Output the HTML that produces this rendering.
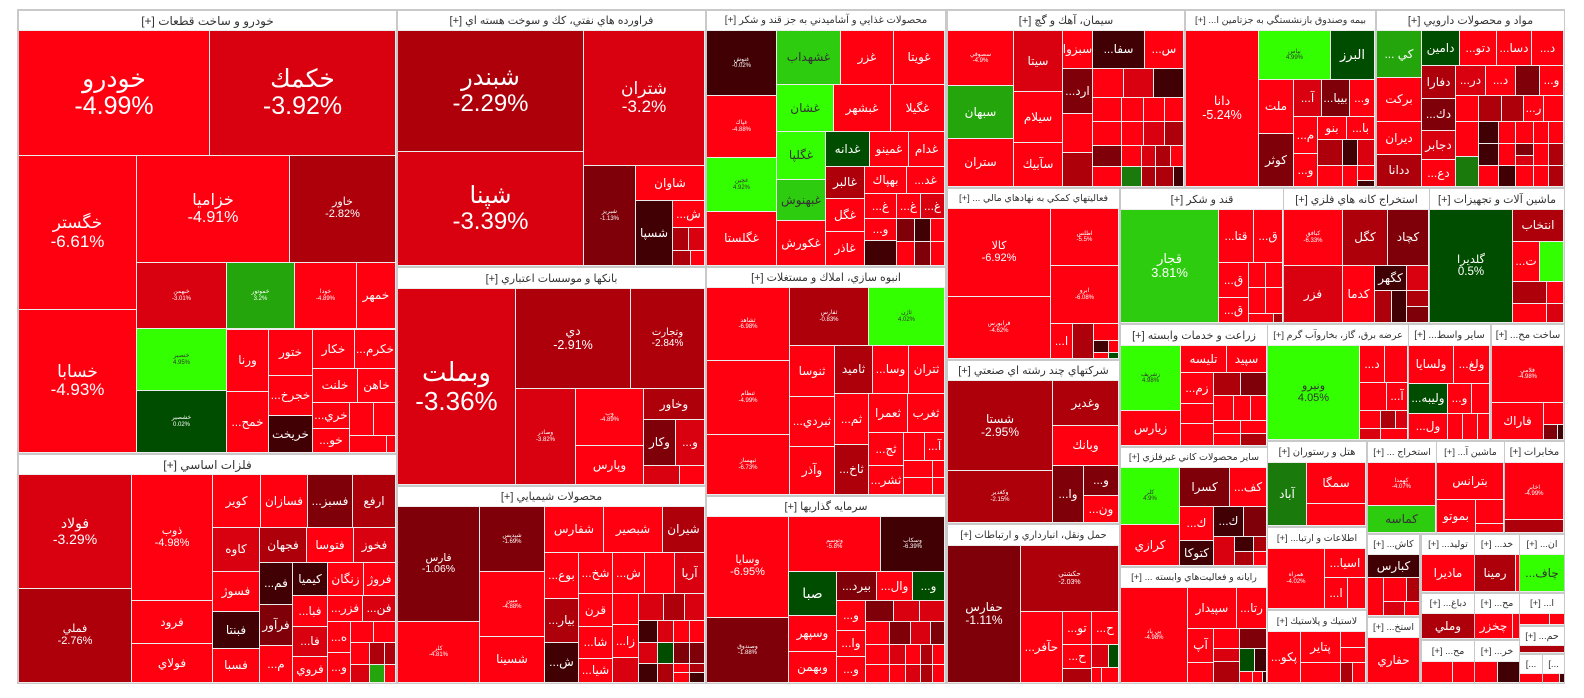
<!DOCTYPE html>
<html><head><meta charset="utf-8"><style>
html,body{margin:0;padding:0;background:#fff;width:1584px;height:698px;overflow:hidden}
body{position:relative;font-family:"Liberation Sans","DejaVu Sans",sans-serif}
.bg{position:absolute;left:17px;top:9px;width:1548px;height:675px;background:#c9c9c9}
.s{position:absolute;background:#ececec}
.h{position:absolute;background:#fff;color:#333;font-size:11px;display:flex;align-items:center;justify-content:center;overflow:hidden;white-space:nowrap}
.h.n{font-size:10px}
.h.m{font-size:9.5px}
.t{position:absolute;display:flex;flex-direction:column;align-items:center;justify-content:center;overflow:hidden;color:#fff;font-size:12px;line-height:1.08;text-align:center;white-space:nowrap}
.t i{font-style:normal;display:block}
.a{background:#ff0010}.b{background:#d9000f}.c{background:#ad000b}.d{background:#7f0008}.e{background:#400004}
.g1{background:#33ff00;color:#333}.g2{background:#2ecc0f;color:#333}.g3{background:#23a50b}.g4{background:#1b7a0c}.g5{background:#004d00}
.x{font-size:6px}
</style></head><body>
<div class="bg"></div>

<!-- sector backgrounds + headers -->
<div class="s" style="left:19px;top:11px;width:377px;height:442px"></div><div class="h" dir="rtl" style="left:19px;top:11px;width:377px;height:19px;font-size:12px">خودرو و ساخت قطعات [+]</div>
<div class="s" style="left:19px;top:455px;width:377px;height:228px"></div><div class="h" dir="rtl" style="left:19px;top:455px;width:377px;height:19px;font-size:12px">فلزات اساسي [+]</div>
<div class="s" style="left:398px;top:11px;width:307px;height:255px"></div><div class="h" dir="rtl" style="left:398px;top:11px;width:307px;height:19px">فراورده هاي نفتي، كك و سوخت هسته اي [+]</div>
<div class="s" style="left:398px;top:268px;width:307px;height:217px"></div><div class="h" dir="rtl" style="left:398px;top:268px;width:307px;height:20px">بانكها و موسسات اعتباري [+]</div>
<div class="s" style="left:398px;top:487px;width:307px;height:196px"></div><div class="h" dir="rtl" style="left:398px;top:487px;width:307px;height:19px">محصولات شيميايي [+]</div>
<div class="s" style="left:707px;top:11px;width:238px;height:255px"></div><div class="h n" dir="rtl" style="left:707px;top:11px;width:238px;height:19px">محصولات غذايي و آشاميدني به جز قند و شكر [+]</div>
<div class="s" style="left:707px;top:268px;width:238px;height:227px"></div><div class="h" dir="rtl" style="left:707px;top:268px;width:238px;height:19px">انبوه سازي، املاك و مستغلات [+]</div>
<div class="s" style="left:707px;top:497px;width:238px;height:186px"></div><div class="h" dir="rtl" style="left:707px;top:497px;width:238px;height:19px">سرمايه گذاريها [+]</div>
<div class="s" style="left:948px;top:11px;width:236px;height:176px"></div><div class="h" dir="rtl" style="left:948px;top:11px;width:236px;height:19px">سيمان، آهك و گچ [+]</div>
<div class="s" style="left:1186px;top:11px;width:189px;height:176px"></div><div class="h m" dir="rtl" style="left:1186px;top:11px;width:189px;height:19px">بيمه وصندوق بازنشستگي به جزتامين ا... [+]</div>
<div class="s" style="left:1377px;top:11px;width:187px;height:176px"></div><div class="h" dir="rtl" style="left:1377px;top:11px;width:187px;height:19px">مواد و محصولات دارويي [+]</div>
<div class="s" style="left:948px;top:189px;width:171px;height:170px"></div><div class="h m" dir="rtl" style="left:948px;top:189px;width:171px;height:19px">فعاليتهاي كمكي به نهادهاي مالي ... [+]</div>
<div class="s" style="left:948px;top:361px;width:171px;height:162px"></div><div class="h" dir="rtl" style="left:948px;top:361px;width:171px;height:19px">شركتهاي چند رشته اي صنعتي [+]</div>
<div class="s" style="left:948px;top:525px;width:171px;height:158px"></div><div class="h n" dir="rtl" style="left:948px;top:525px;width:171px;height:20px">حمل ونقل، انبارداري و ارتباطات [+]</div>
<div class="s" style="left:1121px;top:189px;width:162px;height:134px"></div><div class="h" dir="rtl" style="left:1121px;top:189px;width:162px;height:20px">قند و شكر [+]</div>
<div class="s" style="left:1284px;top:189px;width:145px;height:134px"></div><div class="h" dir="rtl" style="left:1284px;top:189px;width:145px;height:20px">استخراج كانه هاي فلزي [+]</div>
<div class="s" style="left:1430px;top:189px;width:134px;height:134px"></div><div class="h" dir="rtl" style="left:1430px;top:189px;width:134px;height:20px">ماشين آلات و تجهيزات [+]</div>
<div class="s" style="left:1121px;top:325px;width:146px;height:121px"></div><div class="h" dir="rtl" style="left:1121px;top:325px;width:146px;height:20px">زراعت و خدمات وابسته [+]</div>
<div class="s" style="left:1268px;top:325px;width:140px;height:115px"></div><div class="h m" dir="rtl" style="left:1268px;top:325px;width:140px;height:20px">عرضه برق، گاز، بخاروآب گرم [+]</div>
<div class="s" style="left:1409px;top:325px;width:81px;height:115px"></div><div class="h n" dir="rtl" style="left:1409px;top:325px;width:81px;height:20px">ساير واسط... [+]</div>
<div class="s" style="left:1492px;top:325px;width:72px;height:115px"></div><div class="h n" dir="rtl" style="left:1492px;top:325px;width:72px;height:20px">ساخت مح... [+]</div>
<div class="s" style="left:1121px;top:448px;width:146px;height:118px"></div><div class="h m" dir="rtl" style="left:1121px;top:448px;width:146px;height:19px">ساير محصولات كاني غيرفلزي [+]</div>
<div class="s" style="left:1121px;top:568px;width:146px;height:115px"></div><div class="h m" dir="rtl" style="left:1121px;top:568px;width:146px;height:19px">رايانه و فعاليت‌هاي وابسته ... [+]</div>
<div class="s" style="left:1268px;top:442px;width:98px;height:84px"></div><div class="h n" dir="rtl" style="left:1268px;top:442px;width:98px;height:20px">هتل و رستوران [+]</div>
<div class="s" style="left:1268px;top:528px;width:98px;height:81px"></div><div class="h m" dir="rtl" style="left:1268px;top:528px;width:98px;height:20px">اطلاعات و ارتبا... [+]</div>
<div class="s" style="left:1268px;top:611px;width:98px;height:72px"></div><div class="h m" dir="rtl" style="left:1268px;top:611px;width:98px;height:20px">لاستيك و پلاستيك [+]</div>
<div class="s" style="left:1368px;top:442px;width:68px;height:91px"></div><div class="h m" dir="rtl" style="left:1368px;top:442px;width:68px;height:20px">استخراج ... [+]</div>
<div class="s" style="left:1437px;top:442px;width:67px;height:91px"></div><div class="h m" dir="rtl" style="left:1437px;top:442px;width:67px;height:20px">ماشين آ... [+]</div>
<div class="s" style="left:1505px;top:442px;width:59px;height:91px"></div><div class="h n" dir="rtl" style="left:1505px;top:442px;width:59px;height:20px">مخابرات [+]</div>
<div class="s" style="left:1368px;top:535px;width:51px;height:81px"></div><div class="h m" dir="rtl" style="left:1368px;top:535px;width:51px;height:19px">كاش... [+]</div>
<div class="s" style="left:1368px;top:618px;width:51px;height:65px"></div><div class="h m" dir="rtl" style="left:1368px;top:618px;width:51px;height:19px">استخ... [+]</div>
<div class="s" style="left:1422px;top:535px;width:52px;height:57px"></div><div class="h m" dir="rtl" style="left:1422px;top:535px;width:52px;height:19px">توليد... [+]</div>
<div class="s" style="left:1422px;top:594px;width:52px;height:45px"></div><div class="h m" dir="rtl" style="left:1422px;top:594px;width:52px;height:19px">دباغ... [+]</div>
<div class="s" style="left:1422px;top:641px;width:52px;height:42px"></div><div class="h m" dir="rtl" style="left:1422px;top:641px;width:52px;height:20px">مح... [+]</div>
<div class="s" style="left:1475px;top:535px;width:44px;height:57px"></div><div class="h m" dir="rtl" style="left:1475px;top:535px;width:44px;height:19px">خد... [+]</div>
<div class="s" style="left:1475px;top:594px;width:44px;height:45px"></div><div class="h m" dir="rtl" style="left:1475px;top:594px;width:44px;height:19px">مح... [+]</div>
<div class="s" style="left:1475px;top:641px;width:44px;height:42px"></div><div class="h m" dir="rtl" style="left:1475px;top:641px;width:44px;height:20px">خر... [+]</div>
<div class="s" style="left:1520px;top:535px;width:44px;height:57px"></div><div class="h m" dir="rtl" style="left:1520px;top:535px;width:44px;height:19px">ان... [+]</div>
<div class="s" style="left:1520px;top:594px;width:44px;height:31px"></div><div class="h m" dir="rtl" style="left:1520px;top:594px;width:44px;height:19px">ا... [+]</div>
<div class="s" style="left:1520px;top:627px;width:44px;height:26px"></div><div class="h m" dir="rtl" style="left:1520px;top:627px;width:44px;height:18px">حم... [+]</div>
<div class="s" style="left:1520px;top:655px;width:22px;height:28px"></div><div class="h m" style="left:1520px;top:655px;width:22px;height:18px">[...</div>
<div class="s" style="left:1543px;top:655px;width:21px;height:28px"></div><div class="h m" style="left:1543px;top:655px;width:21px;height:18px">[...</div>

<!-- 1 خودرو -->
<div class="t a" style="left:19px;top:31px;width:190px;height:124px;font-size:25px"><i dir="rtl">خودرو</i><i>-4.99%</i></div>
<div class="t b" style="left:210px;top:31px;width:185px;height:124px;font-size:25px"><i dir="rtl">خكمك</i><i>-3.92%</i></div>
<div class="t a" style="left:19px;top:156px;width:117px;height:153px;font-size:17px"><i dir="rtl">خگستر</i><i>-6.61%</i></div>
<div class="t a" style="left:19px;top:310px;width:117px;height:142px;font-size:17px"><i dir="rtl">خسابا</i><i>-4.93%</i></div>
<div class="t a" style="left:137px;top:156px;width:152px;height:106px;font-size:16px"><i dir="rtl">خزاميا</i><i>-4.91%</i></div>
<div class="t c" style="left:290px;top:156px;width:105px;height:106px;font-size:11px"><i dir="rtl">خاور</i><i>-2.82%</i></div>
<div class="t b x" style="left:137px;top:263px;width:89px;height:65px"><i dir="rtl">خبهمن</i><i>-3.01%</i></div>
<div class="t g3 x" style="left:227px;top:263px;width:67px;height:65px"><i dir="rtl">خموتور</i><i>3.2%</i></div>
<div class="t a x" style="left:295px;top:263px;width:61px;height:65px"><i dir="rtl">خودا</i><i>-4.89%</i></div>
<div class="t a" style="left:357px;top:263px;width:38px;height:65px"><i dir="rtl">خمهر</i></div>
<div class="t g1 x" style="left:137px;top:329px;width:89px;height:61px"><i dir="rtl">خنصير</i><i>4.95%</i></div>
<div class="t g5 x" style="left:137px;top:391px;width:89px;height:61px"><i dir="rtl">خشصير</i><i>0.02%</i></div>
<div class="t a" style="left:227px;top:330px;width:41px;height:61px"><i dir="rtl">ورنا</i></div>
<div class="t a" style="left:227px;top:392px;width:41px;height:60px"><i dir="rtl">خمح...</i></div>
<div class="t a" style="left:269px;top:330px;width:43px;height:45px"><i dir="rtl">ختور</i></div>
<div class="t a" style="left:269px;top:376px;width:43px;height:39px"><i dir="rtl">خجرخ...</i></div>
<div class="t e" style="left:269px;top:416px;width:43px;height:36px"><i dir="rtl">خريخت</i></div>
<div class="t a" style="left:313px;top:330px;width:41px;height:38px"><i dir="rtl">خكار</i></div>
<div class="t a" style="left:355px;top:330px;width:40px;height:38px"><i dir="rtl">خكرم...</i></div>
<div class="t a" style="left:313px;top:369px;width:44px;height:33px"><i dir="rtl">خلنت</i></div>
<div class="t a" style="left:358px;top:369px;width:37px;height:33px"><i dir="rtl">خاهن</i></div>
<div class="t a" style="left:313px;top:403px;width:36px;height:25px"><i dir="rtl">خري...</i></div>
<div class="t a" style="left:313px;top:429px;width:36px;height:23px"><i dir="rtl">خو...</i></div>
<div class="t a" style="left:350px;top:403px;width:23px;height:32px"></div>
<div class="t a" style="left:374px;top:403px;width:21px;height:32px"></div>
<div class="t a" style="left:350px;top:436px;width:36px;height:16px"></div>
<div class="t a" style="left:387px;top:436px;width:8px;height:16px"></div>

<!-- 2 فلزات -->
<div class="t b" style="left:19px;top:475px;width:112px;height:113px;font-size:14px"><i dir="rtl">فولاد</i><i>-3.29%</i></div>
<div class="t c" style="left:19px;top:589px;width:112px;height:93px;font-size:11px"><i dir="rtl">فملي</i><i>-2.76%</i></div>
<div class="t a" style="left:132px;top:475px;width:80px;height:125px;font-size:11px"><i dir="rtl">ذوب</i><i>-4.98%</i></div>
<div class="t a" style="left:132px;top:601px;width:80px;height:42px"><i dir="rtl">فرود</i></div>
<div class="t a" style="left:132px;top:644px;width:80px;height:38px"><i dir="rtl">فولاي</i></div>
<div class="t a" style="left:213px;top:475px;width:47px;height:52px"><i dir="rtl">كوير</i></div>
<div class="t a" style="left:261px;top:475px;width:46px;height:52px"><i dir="rtl">فسازان</i></div>
<div class="t d" style="left:308px;top:475px;width:44px;height:52px"><i dir="rtl">فسبز...</i></div>
<div class="t c" style="left:353px;top:475px;width:42px;height:52px"><i dir="rtl">ارفع</i></div>
<div class="t b" style="left:213px;top:528px;width:46px;height:43px"><i dir="rtl">كاوه</i></div>
<div class="t c" style="left:260px;top:528px;width:46px;height:34px"><i dir="rtl">فجهان</i></div>
<div class="t a" style="left:307px;top:528px;width:46px;height:34px"><i dir="rtl">فتوسا</i></div>
<div class="t b" style="left:354px;top:528px;width:41px;height:34px"><i dir="rtl">فخوز</i></div>
<div class="t a" style="left:213px;top:572px;width:46px;height:39px"><i dir="rtl">فسوژ</i></div>
<div class="t e" style="left:213px;top:612px;width:46px;height:36px"><i dir="rtl">فبنتا</i></div>
<div class="t a" style="left:213px;top:649px;width:46px;height:33px"><i dir="rtl">فسبا</i></div>
<div class="t e" style="left:260px;top:563px;width:32px;height:41px"><i dir="rtl">فم...</i></div>
<div class="t d" style="left:260px;top:605px;width:32px;height:40px"><i dir="rtl">فرآور</i></div>
<div class="t a" style="left:260px;top:646px;width:32px;height:36px"><i dir="rtl">م...</i></div>
<div class="t e" style="left:293px;top:563px;width:34px;height:32px"><i dir="rtl">كيميا</i></div>
<div class="t a" style="left:328px;top:563px;width:35px;height:32px"><i dir="rtl">زنگان</i></div>
<div class="t a" style="left:364px;top:563px;width:31px;height:32px"><i dir="rtl">فروژ</i></div>
<div class="t a" style="left:293px;top:596px;width:34px;height:30px"><i dir="rtl">فبا...</i></div>
<div class="t b" style="left:293px;top:627px;width:34px;height:29px"><i dir="rtl">فا...</i></div>
<div class="t a" style="left:293px;top:657px;width:34px;height:25px"><i dir="rtl">فروي</i></div>
<div class="t a" style="left:328px;top:596px;width:34px;height:25px"><i dir="rtl">فزر...</i></div>
<div class="t b" style="left:363px;top:596px;width:32px;height:25px"><i dir="rtl">فن...</i></div>
<div class="t a" style="left:328px;top:622px;width:22px;height:30px"><i dir="rtl">ه...</i></div>
<div class="t a" style="left:328px;top:653px;width:22px;height:29px"><i dir="rtl">و...</i></div>
<div class="t a" style="left:351px;top:622px;width:22px;height:20px"></div>
<div class="t a" style="left:374px;top:622px;width:21px;height:20px"></div>
<div class="t a" style="left:351px;top:643px;width:18px;height:21px"></div>
<div class="t c" style="left:370px;top:643px;width:14px;height:21px"></div>
<div class="t c" style="left:385px;top:643px;width:10px;height:21px"></div>
<div class="t b" style="left:351px;top:665px;width:18px;height:17px"></div>
<div class="t g3" style="left:370px;top:665px;width:14px;height:17px"></div>
<div class="t a" style="left:385px;top:665px;width:10px;height:17px"></div>

<!-- 3 فراورده -->
<div class="t c" style="left:398px;top:31px;width:185px;height:120px;font-size:24px"><i dir="rtl">شبندر</i><i>-2.29%</i></div>
<div class="t b" style="left:398px;top:152px;width:185px;height:113px;font-size:24px"><i dir="rtl">شپنا</i><i>-3.39%</i></div>
<div class="t b" style="left:584px;top:31px;width:120px;height:134px;font-size:17px"><i dir="rtl">شتران</i><i>-3.2%</i></div>
<div class="t d x" style="left:584px;top:166px;width:51px;height:99px"><i dir="rtl">شبريز</i><i>-1.13%</i></div>
<div class="t a" style="left:636px;top:166px;width:68px;height:34px"><i dir="rtl">شاوان</i></div>
<div class="t e" style="left:636px;top:201px;width:36px;height:64px"><i dir="rtl">شسپا</i></div>
<div class="t a" style="left:673px;top:201px;width:31px;height:26px"><i dir="rtl">ش...</i></div>
<div class="t c" style="left:673px;top:228px;width:15px;height:22px"></div>
<div class="t b" style="left:689px;top:228px;width:15px;height:22px"></div>
<div class="t c" style="left:673px;top:251px;width:17px;height:14px"></div>
<div class="t a" style="left:691px;top:251px;width:13px;height:14px"></div>

<!-- 4 بانکها -->
<div class="t b" style="left:398px;top:289px;width:117px;height:195px;font-size:26px"><i dir="rtl">وبملت</i><i>-3.36%</i></div>
<div class="t c" style="left:516px;top:289px;width:114px;height:99px;font-size:12.5px"><i dir="rtl">دي</i><i>-2.91%</i></div>
<div class="t c" style="left:631px;top:289px;width:73px;height:99px;font-size:10px"><i dir="rtl">وتجارت</i><i>-2.84%</i></div>
<div class="t b x" style="left:516px;top:389px;width:59px;height:95px"><i dir="rtl">وصادر</i><i>-3.82%</i></div>
<div class="t a x" style="left:576px;top:389px;width:67px;height:56px"><i dir="rtl">وب</i><i>-4.89%</i></div>
<div class="t a" style="left:576px;top:446px;width:67px;height:38px"><i dir="rtl">وپارس</i></div>
<div class="t c" style="left:644px;top:389px;width:60px;height:30px"><i dir="rtl">وخاور</i></div>
<div class="t d" style="left:644px;top:420px;width:31px;height:45px"><i dir="rtl">وكار</i></div>
<div class="t b" style="left:676px;top:420px;width:28px;height:45px"><i dir="rtl">و...</i></div>
<div class="t b" style="left:644px;top:466px;width:35px;height:18px"></div>
<div class="t a" style="left:680px;top:466px;width:24px;height:18px"></div>

<!-- 5 شیمیایی -->
<div class="t d" style="left:398px;top:507px;width:81px;height:114px;font-size:10.5px"><i dir="rtl">فارس</i><i>-1.06%</i></div>
<div class="t a x" style="left:398px;top:622px;width:81px;height:60px"><i dir="rtl">كلر</i><i>-4.81%</i></div>
<div class="t d x" style="left:480px;top:507px;width:64px;height:64px"><i dir="rtl">شپديس</i><i>-1.69%</i></div>
<div class="t a x" style="left:480px;top:572px;width:64px;height:64px"><i dir="rtl">مبين</i><i>-4.88%</i></div>
<div class="t a" style="left:480px;top:637px;width:64px;height:45px"><i dir="rtl">شسينا</i></div>
<div class="t a" style="left:545px;top:507px;width:58px;height:45px"><i dir="rtl">شفارس</i></div>
<div class="t a" style="left:604px;top:507px;width:58px;height:45px"><i dir="rtl">شبصير</i></div>
<div class="t c" style="left:663px;top:507px;width:41px;height:45px"><i dir="rtl">شيران</i></div>
<div class="t a" style="left:545px;top:553px;width:33px;height:45px"><i dir="rtl">بوع...</i></div>
<div class="t a" style="left:579px;top:553px;width:33px;height:40px"><i dir="rtl">شخ...</i></div>
<div class="t a" style="left:613px;top:553px;width:31px;height:40px"><i dir="rtl">ش...</i></div>
<div class="t a" style="left:645px;top:553px;width:29px;height:40px"></div>
<div class="t b" style="left:675px;top:553px;width:29px;height:40px"><i dir="rtl">آريا</i></div>
<div class="t c" style="left:545px;top:599px;width:33px;height:43px"><i dir="rtl">بيار...</i></div>
<div class="t e" style="left:545px;top:643px;width:33px;height:39px"><i dir="rtl">ش...</i></div>
<div class="t a" style="left:579px;top:594px;width:33px;height:32px"><i dir="rtl">قرن</i></div>
<div class="t a" style="left:579px;top:627px;width:33px;height:31px"><i dir="rtl">شا...</i></div>
<div class="t a" style="left:579px;top:659px;width:33px;height:23px"><i dir="rtl">شيا...</i></div>
<div class="t a" style="left:613px;top:594px;width:25px;height:30px"></div>
<div class="t a" style="left:613px;top:625px;width:25px;height:32px"><i dir="rtl">زا...</i></div>
<div class="t b" style="left:613px;top:658px;width:25px;height:24px"></div>
<div class="t b" style="left:639px;top:594px;width:24px;height:26px"></div>
<div class="t c" style="left:664px;top:594px;width:20px;height:26px"></div>
<div class="t b" style="left:685px;top:594px;width:19px;height:26px"></div>
<div class="t e" style="left:639px;top:621px;width:18px;height:21px"></div>
<div class="t b" style="left:639px;top:643px;width:18px;height:20px"></div>
<div class="t e" style="left:639px;top:664px;width:18px;height:18px"></div>
<div class="t b" style="left:658px;top:621px;width:15px;height:21px"></div>
<div class="t g5" style="left:658px;top:643px;width:15px;height:20px"></div>
<div class="t c" style="left:658px;top:664px;width:15px;height:18px"></div>
<div class="t a" style="left:674px;top:621px;width:15px;height:21px"></div>
<div class="t d" style="left:674px;top:643px;width:15px;height:20px"></div>
<div class="t a" style="left:674px;top:664px;width:15px;height:8px"></div>
<div class="t a" style="left:674px;top:673px;width:15px;height:9px"></div>
<div class="t a" style="left:690px;top:621px;width:14px;height:21px"></div>
<div class="t d" style="left:690px;top:643px;width:14px;height:20px"></div>
<div class="t c" style="left:690px;top:664px;width:14px;height:8px"></div>
<div class="t e" style="left:690px;top:673px;width:14px;height:9px"></div>

<!-- 6 غذایی -->
<div class="t e x" style="left:707px;top:31px;width:69px;height:64px"><i dir="rtl">غنوش</i><i>-0.02%</i></div>
<div class="t a x" style="left:707px;top:96px;width:69px;height:61px"><i dir="rtl">غپاك</i><i>-4.88%</i></div>
<div class="t g1 x" style="left:707px;top:158px;width:69px;height:53px"><i dir="rtl">غچين</i><i>4.92%</i></div>
<div class="t a" style="left:707px;top:212px;width:69px;height:53px"><i dir="rtl">غگلستا</i></div>
<div class="t g2" style="left:777px;top:31px;width:63px;height:53px"><i dir="rtl">غشهداب</i></div>
<div class="t a" style="left:841px;top:31px;width:52px;height:53px"><i dir="rtl">غزر</i></div>
<div class="t a" style="left:894px;top:31px;width:50px;height:53px"><i dir="rtl">غويتا</i></div>
<div class="t g1" style="left:777px;top:85px;width:56px;height:46px"><i dir="rtl">غشان</i></div>
<div class="t a" style="left:834px;top:85px;width:56px;height:46px"><i dir="rtl">غبشهر</i></div>
<div class="t a" style="left:891px;top:85px;width:53px;height:46px"><i dir="rtl">غگيلا</i></div>
<div class="t g1" style="left:777px;top:132px;width:48px;height:47px"><i dir="rtl">غگلپا</i></div>
<div class="t g2" style="left:777px;top:180px;width:48px;height:40px"><i dir="rtl">غبهنوش</i></div>
<div class="t a" style="left:777px;top:221px;width:48px;height:44px"><i dir="rtl">غكورش</i></div>
<div class="t g5" style="left:826px;top:132px;width:43px;height:34px"><i dir="rtl">غدانه</i></div>
<div class="t a" style="left:870px;top:132px;width:38px;height:34px"><i dir="rtl">غمينو</i></div>
<div class="t a" style="left:909px;top:132px;width:35px;height:34px"><i dir="rtl">غدام</i></div>
<div class="t c" style="left:826px;top:167px;width:38px;height:31px"><i dir="rtl">غالبر</i></div>
<div class="t a" style="left:865px;top:167px;width:41px;height:26px"><i dir="rtl">بهپاك</i></div>
<div class="t a" style="left:907px;top:167px;width:37px;height:26px"><i dir="rtl">غد...</i></div>
<div class="t a" style="left:826px;top:199px;width:38px;height:32px"><i dir="rtl">غگل</i></div>
<div class="t a" style="left:826px;top:232px;width:38px;height:33px"><i dir="rtl">غاذر</i></div>
<div class="t a" style="left:865px;top:194px;width:31px;height:24px"><i dir="rtl">غ...</i></div>
<div class="t a" style="left:897px;top:194px;width:23px;height:24px"><i dir="rtl">غ...</i></div>
<div class="t b" style="left:921px;top:194px;width:23px;height:24px"><i dir="rtl">غ...</i></div>
<div class="t a" style="left:865px;top:219px;width:31px;height:21px"><i dir="rtl">و...</i></div>
<div class="t e" style="left:865px;top:241px;width:31px;height:24px"></div>
<div class="t d" style="left:897px;top:219px;width:17px;height:22px"></div>
<div class="t e" style="left:915px;top:219px;width:15px;height:22px"></div>
<div class="t a" style="left:931px;top:219px;width:13px;height:22px"></div>
<div class="t a" style="left:897px;top:242px;width:17px;height:23px"></div>
<div class="t d" style="left:915px;top:242px;width:15px;height:23px"></div>
<div class="t a" style="left:931px;top:242px;width:13px;height:23px"></div>

<!-- 7 انبوه -->
<div class="t a x" style="left:707px;top:288px;width:82px;height:72px"><i dir="rtl">ثشاهد</i><i>-6.98%</i></div>
<div class="t a x" style="left:707px;top:361px;width:82px;height:73px"><i dir="rtl">ثنظام</i><i>-4.99%</i></div>
<div class="t a x" style="left:707px;top:435px;width:82px;height:59px"><i dir="rtl">ثبهساز</i><i>-6.73%</i></div>
<div class="t c x" style="left:790px;top:288px;width:78px;height:57px"><i dir="rtl">ثفارس</i><i>-0.83%</i></div>
<div class="t g1 x" style="left:869px;top:288px;width:75px;height:57px"><i dir="rtl">ثاژن</i><i>4.02%</i></div>
<div class="t a" style="left:790px;top:346px;width:44px;height:50px"><i dir="rtl">ثنوسا</i></div>
<div class="t c" style="left:835px;top:346px;width:37px;height:47px"><i dir="rtl">ثاميد</i></div>
<div class="t a" style="left:873px;top:346px;width:35px;height:47px"><i dir="rtl">وسا...</i></div>
<div class="t a" style="left:909px;top:346px;width:35px;height:47px"><i dir="rtl">ثتران</i></div>
<div class="t a" style="left:790px;top:397px;width:44px;height:49px"><i dir="rtl">ثبردي...</i></div>
<div class="t a" style="left:790px;top:447px;width:44px;height:47px"><i dir="rtl">وآذر</i></div>
<div class="t a" style="left:835px;top:394px;width:33px;height:50px"><i dir="rtl">ثم...</i></div>
<div class="t c" style="left:835px;top:445px;width:33px;height:49px"><i dir="rtl">ثاخ...</i></div>
<div class="t a" style="left:869px;top:394px;width:38px;height:38px"><i dir="rtl">ثعمرا</i></div>
<div class="t a" style="left:908px;top:394px;width:36px;height:38px"><i dir="rtl">ثغرب</i></div>
<div class="t a" style="left:869px;top:433px;width:34px;height:32px"><i dir="rtl">ثج...</i></div>
<div class="t a" style="left:869px;top:466px;width:34px;height:28px"><i dir="rtl">ثشر...</i></div>
<div class="t a" style="left:904px;top:433px;width:20px;height:27px"></div>
<div class="t a" style="left:925px;top:433px;width:19px;height:27px"><i dir="rtl">آ...</i></div>
<div class="t a" style="left:904px;top:461px;width:28px;height:16px"></div>
<div class="t a" style="left:933px;top:461px;width:11px;height:16px"></div>
<div class="t a" style="left:904px;top:478px;width:28px;height:16px"></div>
<div class="t a" style="left:933px;top:478px;width:11px;height:16px"></div>

<!-- 8 سرمایه -->
<div class="t a" style="left:707px;top:517px;width:81px;height:100px;font-size:11px"><i dir="rtl">وسايا</i><i>-6.95%</i></div>
<div class="t d x" style="left:707px;top:618px;width:81px;height:64px"><i dir="rtl">وصندوق</i><i>-1.88%</i></div>
<div class="t a x" style="left:789px;top:517px;width:91px;height:54px"><i dir="rtl">وتوسم</i><i>-5.8%</i></div>
<div class="t e x" style="left:881px;top:517px;width:63px;height:54px"><i dir="rtl">وسكاب</i><i>-6.39%</i></div>
<div class="t g5" style="left:789px;top:572px;width:47px;height:43px;font-size:14px"><i dir="rtl">صبا</i></div>
<div class="t a" style="left:789px;top:616px;width:47px;height:35px"><i dir="rtl">وسپهر</i></div>
<div class="t a" style="left:789px;top:652px;width:47px;height:30px"><i dir="rtl">وبهمن</i></div>
<div class="t d" style="left:837px;top:572px;width:39px;height:28px"><i dir="rtl">بيرد...</i></div>
<div class="t a" style="left:877px;top:572px;width:35px;height:28px"><i dir="rtl">وال...</i></div>
<div class="t g5" style="left:913px;top:572px;width:31px;height:28px"><i dir="rtl">و...</i></div>
<div class="t a" style="left:837px;top:601px;width:28px;height:29px"><i dir="rtl">و...</i></div>
<div class="t a" style="left:837px;top:631px;width:28px;height:25px"><i dir="rtl">وا...</i></div>
<div class="t a" style="left:837px;top:657px;width:28px;height:25px"><i dir="rtl">و...</i></div>
<div class="t d" style="left:866px;top:601px;width:27px;height:20px"></div>
<div class="t b" style="left:894px;top:601px;width:25px;height:20px"></div>
<div class="t b" style="left:920px;top:601px;width:24px;height:20px"></div>
<div class="t a" style="left:866px;top:622px;width:23px;height:22px"></div>
<div class="t d" style="left:890px;top:622px;width:20px;height:22px"></div>
<div class="t b" style="left:911px;top:622px;width:19px;height:22px"></div>
<div class="t d" style="left:931px;top:622px;width:13px;height:22px"></div>
<div class="t a" style="left:866px;top:645px;width:23px;height:19px"></div>
<div class="t b" style="left:890px;top:645px;width:15px;height:19px"></div>
<div class="t a" style="left:906px;top:645px;width:14px;height:19px"></div>
<div class="t c" style="left:921px;top:645px;width:11px;height:19px"></div>
<div class="t a" style="left:933px;top:645px;width:11px;height:19px"></div>
<div class="t a" style="left:866px;top:665px;width:23px;height:17px"></div>
<div class="t a" style="left:890px;top:665px;width:15px;height:17px"></div>
<div class="t b" style="left:906px;top:665px;width:14px;height:17px"></div>
<div class="t c" style="left:921px;top:665px;width:11px;height:17px"></div>
<div class="t a" style="left:933px;top:665px;width:11px;height:17px"></div>

<!-- 9 سیمان -->
<div class="t a x" style="left:948px;top:31px;width:65px;height:54px"><i dir="rtl">سصوفي</i><i>-4.9%</i></div>
<div class="t g3" style="left:948px;top:86px;width:65px;height:52px"><i dir="rtl">سبهان</i></div>
<div class="t a" style="left:948px;top:139px;width:65px;height:47px"><i dir="rtl">ستران</i></div>
<div class="t b" style="left:1014px;top:31px;width:48px;height:60px"><i dir="rtl">سيتا</i></div>
<div class="t a" style="left:1014px;top:92px;width:48px;height:50px"><i dir="rtl">سيلام</i></div>
<div class="t a" style="left:1014px;top:143px;width:48px;height:43px"><i dir="rtl">سآبيك</i></div>
<div class="t a" style="left:1063px;top:31px;width:29px;height:37px"><i dir="rtl">سبزوا</i></div>
<div class="t e" style="left:1093px;top:31px;width:51px;height:37px"><i dir="rtl">سفا...</i></div>
<div class="t a" style="left:1145px;top:31px;width:38px;height:37px"><i dir="rtl">س...</i></div>
<div class="t d" style="left:1063px;top:69px;width:29px;height:44px"><i dir="rtl">ارد...</i></div>
<div class="t a" style="left:1063px;top:114px;width:29px;height:38px"></div>
<div class="t c" style="left:1063px;top:153px;width:29px;height:33px"></div>
<div class="t a" style="left:1093px;top:69px;width:30px;height:28px"></div>
<div class="t b" style="left:1124px;top:69px;width:29px;height:28px"></div>
<div class="t e" style="left:1154px;top:69px;width:29px;height:28px"></div>
<div class="t a" style="left:1093px;top:98px;width:28px;height:23px"></div>
<div class="t a" style="left:1122px;top:98px;width:21px;height:23px"></div>
<div class="t a" style="left:1144px;top:98px;width:20px;height:23px"></div>
<div class="t a" style="left:1165px;top:98px;width:18px;height:23px"></div>
<div class="t a" style="left:1093px;top:122px;width:28px;height:23px"></div>
<div class="t a" style="left:1122px;top:122px;width:21px;height:23px"></div>
<div class="t b" style="left:1144px;top:122px;width:20px;height:23px"></div>
<div class="t c" style="left:1165px;top:122px;width:18px;height:23px"></div>
<div class="t d" style="left:1093px;top:146px;width:28px;height:20px"></div>
<div class="t a" style="left:1122px;top:146px;width:19px;height:20px"></div>
<div class="t b" style="left:1142px;top:146px;width:13px;height:20px"></div>
<div class="t c" style="left:1156px;top:146px;width:14px;height:20px"></div>
<div class="t a" style="left:1171px;top:146px;width:12px;height:20px"></div>
<div class="t a" style="left:1093px;top:167px;width:28px;height:19px"></div>
<div class="t g4" style="left:1122px;top:167px;width:19px;height:19px"></div>
<div class="t c" style="left:1142px;top:167px;width:13px;height:19px"></div>
<div class="t c" style="left:1156px;top:167px;width:17px;height:19px"></div>
<div class="t e" style="left:1174px;top:167px;width:9px;height:19px"></div>

<!-- 10 بیمه -->
<div class="t a" style="left:1186px;top:31px;width:72px;height:155px;font-size:12.5px"><i dir="rtl">دانا</i><i>-5.24%</i></div>
<div class="t g1 x" style="left:1259px;top:31px;width:71px;height:48px"><i dir="rtl">بپاس</i><i>4.99%</i></div>
<div class="t g5" style="left:1331px;top:31px;width:43px;height:48px;font-size:13px"><i dir="rtl">البرز</i></div>
<div class="t a" style="left:1259px;top:80px;width:34px;height:53px"><i dir="rtl">ملت</i></div>
<div class="t d" style="left:1259px;top:134px;width:34px;height:52px"><i dir="rtl">كوثر</i></div>
<div class="t b" style="left:1294px;top:80px;width:27px;height:36px"><i dir="rtl">آ...</i></div>
<div class="t d" style="left:1322px;top:80px;width:27px;height:36px"><i dir="rtl">بيبا...</i></div>
<div class="t a" style="left:1350px;top:80px;width:24px;height:36px"><i dir="rtl">و...</i></div>
<div class="t a" style="left:1294px;top:117px;width:23px;height:36px"><i dir="rtl">م...</i></div>
<div class="t a" style="left:1318px;top:117px;width:28px;height:22px"><i dir="rtl">بنو</i></div>
<div class="t a" style="left:1347px;top:117px;width:27px;height:22px"><i dir="rtl">با...</i></div>
<div class="t a" style="left:1294px;top:154px;width:23px;height:32px"><i dir="rtl">و...</i></div>
<div class="t c" style="left:1318px;top:140px;width:24px;height:25px"></div>
<div class="t e" style="left:1343px;top:140px;width:14px;height:25px"></div>
<div class="t b" style="left:1358px;top:140px;width:16px;height:25px"></div>
<div class="t a" style="left:1318px;top:166px;width:24px;height:20px"></div>
<div class="t a" style="left:1343px;top:166px;width:14px;height:20px"></div>
<div class="t a" style="left:1358px;top:166px;width:16px;height:14px"></div>
<div class="t e" style="left:1358px;top:181px;width:16px;height:5px"></div>

<!-- 11 دارویی -->
<div class="t g3" style="left:1377px;top:31px;width:44px;height:46px"><i dir="rtl">كي ...</i></div>
<div class="t a" style="left:1377px;top:78px;width:44px;height:43px"><i dir="rtl">بركت</i></div>
<div class="t a" style="left:1377px;top:122px;width:44px;height:32px"><i dir="rtl">ديران</i></div>
<div class="t c" style="left:1377px;top:155px;width:44px;height:31px"><i dir="rtl">ددانا</i></div>
<div class="t g5" style="left:1422px;top:31px;width:37px;height:34px"><i dir="rtl">دامين</i></div>
<div class="t a" style="left:1460px;top:31px;width:36px;height:34px"><i dir="rtl">دتو...</i></div>
<div class="t a" style="left:1497px;top:31px;width:34px;height:34px"><i dir="rtl">دسا...</i></div>
<div class="t a" style="left:1532px;top:31px;width:31px;height:34px"><i dir="rtl">د...</i></div>
<div class="t c" style="left:1422px;top:66px;width:33px;height:32px"><i dir="rtl">دفارا</i></div>
<div class="t d" style="left:1422px;top:99px;width:33px;height:31px"><i dir="rtl">دك...</i></div>
<div class="t b" style="left:1422px;top:131px;width:33px;height:28px"><i dir="rtl">دجابر</i></div>
<div class="t a" style="left:1422px;top:160px;width:33px;height:26px"><i dir="rtl">دع...</i></div>
<div class="t b" style="left:1456px;top:66px;width:29px;height:29px"><i dir="rtl">در...</i></div>
<div class="t a" style="left:1486px;top:66px;width:29px;height:29px"><i dir="rtl">د...</i></div>
<div class="t d" style="left:1516px;top:66px;width:23px;height:29px"></div>
<div class="t a" style="left:1540px;top:66px;width:23px;height:29px"><i dir="rtl">و...</i></div>
<div class="t a" style="left:1456px;top:96px;width:22px;height:25px"></div>
<div class="t c" style="left:1479px;top:96px;width:22px;height:25px"></div>
<div class="t c" style="left:1502px;top:96px;width:21px;height:25px"></div>
<div class="t a" style="left:1524px;top:96px;width:19px;height:25px"><i dir="rtl">ر...</i></div>
<div class="t a" style="left:1544px;top:96px;width:19px;height:25px"></div>
<div class="t a" style="left:1456px;top:122px;width:22px;height:34px"></div>
<div class="t g4" style="left:1456px;top:157px;width:22px;height:29px"></div>
<div class="t e" style="left:1479px;top:122px;width:19px;height:21px"></div>
<div class="t e" style="left:1479px;top:144px;width:19px;height:21px"></div>
<div class="t a" style="left:1479px;top:166px;width:19px;height:20px"></div>
<div class="t a" style="left:1499px;top:122px;width:16px;height:21px"></div>
<div class="t a" style="left:1499px;top:144px;width:16px;height:21px"></div>
<div class="t e" style="left:1499px;top:166px;width:16px;height:20px"></div>
<div class="t a" style="left:1516px;top:122px;width:17px;height:21px"></div>
<div class="t d" style="left:1516px;top:144px;width:17px;height:11px"></div>
<div class="t b" style="left:1516px;top:156px;width:17px;height:9px"></div>
<div class="t a" style="left:1516px;top:166px;width:17px;height:20px"></div>
<div class="t a" style="left:1534px;top:122px;width:14px;height:21px"></div>
<div class="t a" style="left:1534px;top:144px;width:14px;height:21px"></div>
<div class="t a" style="left:1534px;top:166px;width:14px;height:20px"></div>
<div class="t a" style="left:1549px;top:122px;width:14px;height:21px"></div>
<div class="t c" style="left:1549px;top:144px;width:14px;height:21px"></div>
<div class="t c" style="left:1549px;top:166px;width:14px;height:20px"></div>

<!-- 12 فعالیتهای کمکی -->
<div class="t a" style="left:948px;top:209px;width:102px;height:87px;font-size:11px"><i dir="rtl">كالا</i><i>-6.92%</i></div>
<div class="t a x" style="left:948px;top:297px;width:102px;height:61px"><i dir="rtl">فرابورس</i><i>-4.62%</i></div>
<div class="t a x" style="left:1051px;top:209px;width:67px;height:56px"><i dir="rtl">اطلس</i><i>-5.5%</i></div>
<div class="t a x" style="left:1051px;top:266px;width:67px;height:57px"><i dir="rtl">ابرو</i><i>-6.08%</i></div>
<div class="t a" style="left:1051px;top:324px;width:21px;height:34px"><i dir="rtl">ا...</i></div>
<div class="t c" style="left:1073px;top:324px;width:20px;height:34px"></div>
<div class="t a" style="left:1094px;top:324px;width:24px;height:16px"></div>
<div class="t e" style="left:1094px;top:341px;width:14px;height:11px"></div>
<div class="t a" style="left:1109px;top:341px;width:9px;height:11px"></div>
<div class="t a" style="left:1094px;top:353px;width:14px;height:5px"></div>
<div class="t g5" style="left:1109px;top:353px;width:9px;height:5px"></div>

<!-- 13 شرکتهای چند رشته -->
<div class="t c" style="left:948px;top:381px;width:104px;height:89px;font-size:12px"><i dir="rtl">شستا</i><i>-2.95%</i></div>
<div class="t c x" style="left:948px;top:471px;width:104px;height:51px"><i dir="rtl">وكغدير</i><i>-2.15%</i></div>
<div class="t c" style="left:1053px;top:381px;width:65px;height:44px"><i dir="rtl">وغدير</i></div>
<div class="t a" style="left:1053px;top:426px;width:65px;height:39px"><i dir="rtl">وبانك</i></div>
<div class="t d" style="left:1053px;top:466px;width:30px;height:56px"><i dir="rtl">وا...</i></div>
<div class="t d" style="left:1084px;top:466px;width:34px;height:29px"><i dir="rtl">و...</i></div>
<div class="t a" style="left:1084px;top:496px;width:34px;height:26px"><i dir="rtl">ون...</i></div>

<!-- 14 حمل و نقل -->
<div class="t d" style="left:948px;top:546px;width:72px;height:136px;font-size:12px"><i dir="rtl">حفارس</i><i>-1.11%</i></div>
<div class="t c" style="left:1021px;top:546px;width:97px;height:65px;font-size:7px"><i dir="rtl">حكشتي</i><i>-2.03%</i></div>
<div class="t a" style="left:1021px;top:612px;width:41px;height:70px"><i dir="rtl">حآفر...</i></div>
<div class="t a" style="left:1063px;top:612px;width:28px;height:32px"><i dir="rtl">تو...</i></div>
<div class="t a" style="left:1092px;top:612px;width:26px;height:32px"><i dir="rtl">ح...</i></div>
<div class="t a" style="left:1063px;top:645px;width:28px;height:23px"><i dir="rtl">ح...</i></div>
<div class="t c" style="left:1063px;top:669px;width:28px;height:13px"></div>
<div class="t b" style="left:1092px;top:645px;width:16px;height:22px"></div>
<div class="t g5" style="left:1109px;top:645px;width:9px;height:22px"></div>
<div class="t a" style="left:1092px;top:668px;width:9px;height:14px"></div>
<div class="t a" style="left:1102px;top:668px;width:16px;height:14px"></div>

<!-- 15 قند و شکر -->
<div class="t g2" style="left:1121px;top:210px;width:97px;height:112px;font-size:13px;color:#fff"><i dir="rtl">قجار</i><i>3.81%</i></div>
<div class="t a" style="left:1219px;top:210px;width:34px;height:52px"><i dir="rtl">قتا...</i></div>
<div class="t a" style="left:1254px;top:210px;width:28px;height:52px"><i dir="rtl">ق...</i></div>
<div class="t a" style="left:1219px;top:263px;width:29px;height:34px"><i dir="rtl">ق...</i></div>
<div class="t a" style="left:1219px;top:298px;width:29px;height:24px"><i dir="rtl">ق...</i></div>
<div class="t a" style="left:1249px;top:263px;width:16px;height:24px"></div>
<div class="t a" style="left:1266px;top:263px;width:16px;height:24px"></div>
<div class="t a" style="left:1249px;top:288px;width:16px;height:25px"></div>
<div class="t a" style="left:1266px;top:288px;width:16px;height:25px"></div>
<div class="t a" style="left:1249px;top:314px;width:24px;height:8px"></div>
<div class="t c" style="left:1274px;top:314px;width:8px;height:8px"></div>

<!-- 16 استخراج کانه -->
<div class="t a x" style="left:1284px;top:210px;width:58px;height:55px"><i dir="rtl">كبافق</i><i>-6.33%</i></div>
<div class="t c" style="left:1343px;top:210px;width:44px;height:55px"><i dir="rtl">كگل</i></div>
<div class="t d" style="left:1388px;top:210px;width:40px;height:55px"><i dir="rtl">كچاد</i></div>
<div class="t b" style="left:1284px;top:266px;width:58px;height:56px"><i dir="rtl">فزر</i></div>
<div class="t a" style="left:1343px;top:266px;width:31px;height:56px"><i dir="rtl">كدما</i></div>
<div class="t e" style="left:1375px;top:266px;width:31px;height:24px"><i dir="rtl">كگهر</i></div>
<div class="t b" style="left:1407px;top:266px;width:21px;height:24px"></div>
<div class="t c" style="left:1375px;top:291px;width:16px;height:31px"></div>
<div class="t e" style="left:1392px;top:291px;width:14px;height:31px"></div>
<div class="t c" style="left:1407px;top:291px;width:21px;height:15px"></div>
<div class="t d" style="left:1407px;top:307px;width:21px;height:15px"></div>

<!-- 17 ماشین آلات -->
<div class="t g5" style="left:1430px;top:210px;width:82px;height:112px;font-size:11.5px"><i dir="rtl">گلديرا</i><i>0.5%</i></div>
<div class="t c" style="left:1513px;top:210px;width:50px;height:31px"><i dir="rtl">انتخاب</i></div>
<div class="t a" style="left:1513px;top:242px;width:26px;height:39px"><i dir="rtl">ت...</i></div>
<div class="t g1" style="left:1540px;top:242px;width:23px;height:39px"></div>
<div class="t c" style="left:1513px;top:282px;width:33px;height:21px"></div>
<div class="t a" style="left:1547px;top:282px;width:16px;height:21px"></div>
<div class="t a" style="left:1513px;top:304px;width:33px;height:18px"></div>
<div class="t b" style="left:1547px;top:304px;width:16px;height:18px"></div>

<!-- 18 زراعت -->
<div class="t g1 x" style="left:1121px;top:346px;width:59px;height:64px"><i dir="rtl">زشريف</i><i>4.98%</i></div>
<div class="t a" style="left:1121px;top:411px;width:59px;height:34px"><i dir="rtl">زيارس</i></div>
<div class="t a" style="left:1181px;top:346px;width:45px;height:26px"><i dir="rtl">تليسه</i></div>
<div class="t a" style="left:1227px;top:346px;width:39px;height:26px"><i dir="rtl">سپيد</i></div>
<div class="t a" style="left:1181px;top:373px;width:32px;height:30px"><i dir="rtl">زم...</i></div>
<div class="t c" style="left:1214px;top:373px;width:26px;height:22px"></div>
<div class="t d" style="left:1241px;top:373px;width:25px;height:22px"></div>
<div class="t a" style="left:1181px;top:404px;width:32px;height:19px"></div>
<div class="t a" style="left:1181px;top:424px;width:32px;height:21px"></div>
<div class="t a" style="left:1214px;top:396px;width:19px;height:24px"></div>
<div class="t a" style="left:1234px;top:396px;width:16px;height:24px"></div>
<div class="t a" style="left:1251px;top:396px;width:15px;height:24px"></div>
<div class="t a" style="left:1214px;top:421px;width:26px;height:12px"></div>
<div class="t a" style="left:1241px;top:421px;width:25px;height:12px"></div>
<div class="t a" style="left:1214px;top:434px;width:26px;height:11px"></div>
<div class="t c" style="left:1241px;top:434px;width:25px;height:11px"></div>

<!-- 19 عرضه برق -->
<div class="t g1" style="left:1268px;top:346px;width:91px;height:93px;font-size:11px"><i dir="rtl">ونيرو</i><i>4.05%</i></div>
<div class="t a" style="left:1360px;top:346px;width:24px;height:36px"><i dir="rtl">د...</i></div>
<div class="t a" style="left:1385px;top:346px;width:22px;height:36px"></div>
<div class="t a" style="left:1360px;top:383px;width:26px;height:27px"></div>
<div class="t a" style="left:1387px;top:383px;width:20px;height:27px"><i dir="rtl">آ...</i></div>
<div class="t a" style="left:1360px;top:411px;width:20px;height:17px"></div>
<div class="t c" style="left:1381px;top:411px;width:14px;height:17px"></div>
<div class="t b" style="left:1396px;top:411px;width:11px;height:17px"></div>
<div class="t b" style="left:1360px;top:429px;width:20px;height:10px"></div>
<div class="t a" style="left:1381px;top:429px;width:26px;height:10px"></div>

<!-- 20 سایر واسط -->
<div class="t a" style="left:1409px;top:346px;width:44px;height:37px"><i dir="rtl">ولسايا</i></div>
<div class="t a" style="left:1454px;top:346px;width:35px;height:37px"><i dir="rtl">ولغ...</i></div>
<div class="t g5" style="left:1409px;top:384px;width:38px;height:29px"><i dir="rtl">وليبه...</i></div>
<div class="t a" style="left:1448px;top:384px;width:23px;height:29px"><i dir="rtl">و...</i></div>
<div class="t a" style="left:1472px;top:384px;width:17px;height:29px"></div>
<div class="t a" style="left:1409px;top:414px;width:38px;height:25px"><i dir="rtl">ول...</i></div>
<div class="t a" style="left:1448px;top:414px;width:14px;height:25px"></div>
<div class="t a" style="left:1463px;top:414px;width:14px;height:25px"></div>
<div class="t a" style="left:1478px;top:414px;width:11px;height:25px"></div>

<!-- 21 ساخت مح -->
<div class="t a x" style="left:1492px;top:346px;width:71px;height:56px"><i dir="rtl">فلامي</i><i>-4.98%</i></div>
<div class="t a" style="left:1492px;top:403px;width:51px;height:36px"><i dir="rtl">فاراك</i></div>
<div class="t a" style="left:1544px;top:403px;width:19px;height:21px"></div>
<div class="t d" style="left:1544px;top:425px;width:13px;height:14px"></div>
<div class="t e" style="left:1558px;top:425px;width:5px;height:14px"></div>

<!-- 22 سایر کانی -->
<div class="t g1 x" style="left:1121px;top:468px;width:58px;height:56px"><i dir="rtl">كلر</i><i>4.9%</i></div>
<div class="t a" style="left:1121px;top:525px;width:58px;height:40px"><i dir="rtl">كرازي</i></div>
<div class="t d" style="left:1180px;top:468px;width:49px;height:38px"><i dir="rtl">كسرا</i></div>
<div class="t a" style="left:1230px;top:468px;width:36px;height:38px"><i dir="rtl">كف...</i></div>
<div class="t a" style="left:1180px;top:507px;width:33px;height:33px"><i dir="rtl">ك...</i></div>
<div class="t e" style="left:1180px;top:541px;width:33px;height:24px"><i dir="rtl">كتوكا</i></div>
<div class="t e" style="left:1214px;top:507px;width:29px;height:29px"><i dir="rtl">ك...</i></div>
<div class="t d" style="left:1244px;top:507px;width:22px;height:29px"></div>
<div class="t b" style="left:1214px;top:537px;width:20px;height:28px"></div>
<div class="t e" style="left:1235px;top:537px;width:18px;height:14px"></div>
<div class="t c" style="left:1254px;top:537px;width:12px;height:14px"></div>
<div class="t c" style="left:1235px;top:552px;width:18px;height:13px"></div>
<div class="t a" style="left:1254px;top:552px;width:12px;height:13px"></div>

<!-- 23 رایانه -->
<div class="t a x" style="left:1121px;top:588px;width:66px;height:94px"><i dir="rtl">پي پاد</i><i>-4.98%</i></div>
<div class="t a" style="left:1188px;top:588px;width:48px;height:40px"><i dir="rtl">سپيدار</i></div>
<div class="t a" style="left:1237px;top:588px;width:29px;height:40px"><i dir="rtl">رتا...</i></div>
<div class="t a" style="left:1188px;top:629px;width:25px;height:33px"><i dir="rtl">آپ</i></div>
<div class="t a" style="left:1188px;top:663px;width:25px;height:19px"></div>
<div class="t a" style="left:1214px;top:629px;width:25px;height:19px"></div>
<div class="t d" style="left:1240px;top:629px;width:26px;height:19px"></div>
<div class="t b" style="left:1214px;top:649px;width:25px;height:12px"></div>
<div class="t g5" style="left:1240px;top:649px;width:14px;height:22px"></div>
<div class="t e" style="left:1255px;top:649px;width:11px;height:22px"></div>
<div class="t c" style="left:1214px;top:662px;width:25px;height:20px"></div>
<div class="t a" style="left:1240px;top:672px;width:12px;height:10px"></div>
<div class="t a" style="left:1253px;top:672px;width:9px;height:10px"></div>
<div class="t e" style="left:1263px;top:672px;width:3px;height:10px"></div>

<!-- 24 هتل -->
<div class="t g4" style="left:1268px;top:463px;width:38px;height:62px"><i dir="rtl">آباد</i></div>
<div class="t a" style="left:1307px;top:463px;width:58px;height:40px"><i dir="rtl">سمگا</i></div>
<div class="t a" style="left:1307px;top:504px;width:58px;height:21px"></div>

<!-- 25 اطلاعات -->
<div class="t a x" style="left:1268px;top:549px;width:56px;height:59px"><i dir="rtl">همراه</i><i>-4.02%</i></div>
<div class="t a" style="left:1325px;top:549px;width:40px;height:28px"><i dir="rtl">اسيا...</i></div>
<div class="t a" style="left:1325px;top:578px;width:22px;height:30px"><i dir="rtl">ا...</i></div>
<div class="t a" style="left:1348px;top:578px;width:17px;height:30px"></div>

<!-- 26 لاستیک -->
<div class="t a" style="left:1268px;top:632px;width:32px;height:50px"><i dir="rtl">پكو...</i></div>
<div class="t a" style="left:1301px;top:632px;width:39px;height:30px"><i dir="rtl">پتاير</i></div>
<div class="t a" style="left:1341px;top:632px;width:24px;height:15px"></div>
<div class="t a" style="left:1341px;top:648px;width:24px;height:14px"></div>
<div class="t a" style="left:1301px;top:663px;width:39px;height:19px"></div>
<div class="t c" style="left:1341px;top:663px;width:11px;height:19px"></div>
<div class="t a" style="left:1353px;top:663px;width:12px;height:19px"></div>

<!-- 27-29 -->
<div class="t a x" style="left:1368px;top:463px;width:67px;height:42px"><i dir="rtl">كهمدا</i><i>-4.07%</i></div>
<div class="t g2" style="left:1368px;top:506px;width:67px;height:26px"><i dir="rtl">كماسه</i></div>
<div class="t a" style="left:1437px;top:463px;width:66px;height:36px"><i dir="rtl">بترانس</i></div>
<div class="t a" style="left:1437px;top:500px;width:38px;height:32px"><i dir="rtl">بموتو</i></div>
<div class="t a" style="left:1476px;top:500px;width:27px;height:23px"></div>
<div class="t a" style="left:1476px;top:524px;width:27px;height:8px"></div>
<div class="t a x" style="left:1505px;top:463px;width:58px;height:56px"><i dir="rtl">اخابر</i><i>-4.99%</i></div>
<div class="t c" style="left:1505px;top:520px;width:58px;height:12px"></div>

<!-- 30-42 -->
<div class="t e" style="left:1368px;top:555px;width:51px;height:22px"><i dir="rtl">كبارس</i></div>
<div class="t a" style="left:1368px;top:578px;width:15px;height:37px"></div>
<div class="t a" style="left:1384px;top:578px;width:22px;height:23px"></div>
<div class="t c" style="left:1407px;top:578px;width:12px;height:23px"></div>
<div class="t b" style="left:1384px;top:602px;width:20px;height:13px"></div>
<div class="t a" style="left:1405px;top:602px;width:14px;height:13px"></div>
<div class="t a" style="left:1368px;top:638px;width:51px;height:44px"><i dir="rtl">حفاري</i></div>
<div class="t a" style="left:1422px;top:555px;width:52px;height:36px"><i dir="rtl">ماديرا</i></div>
<div class="t c" style="left:1422px;top:614px;width:52px;height:24px"><i dir="rtl">وملي</i></div>
<div class="t a" style="left:1422px;top:662px;width:30px;height:20px"></div>
<div class="t a" style="left:1453px;top:662px;width:21px;height:20px"></div>
<div class="t c" style="left:1475px;top:555px;width:40px;height:36px"><i dir="rtl">رمينا</i></div>
<div class="t a" style="left:1516px;top:555px;width:3px;height:36px"></div>
<div class="t a" style="left:1475px;top:614px;width:37px;height:24px"><i dir="rtl">چخزر</i></div>
<div class="t a" style="left:1513px;top:614px;width:6px;height:24px"></div>
<div class="t a" style="left:1475px;top:662px;width:22px;height:20px"></div>
<div class="t e" style="left:1498px;top:662px;width:21px;height:20px"></div>
<div class="t g1" style="left:1520px;top:555px;width:44px;height:36px"><i dir="rtl">چاف...</i></div>
<div class="t a" style="left:1520px;top:614px;width:29px;height:10px"></div>
<div class="t a" style="left:1550px;top:614px;width:14px;height:10px"></div>
<div class="t c" style="left:1520px;top:646px;width:44px;height:6px"></div>
<div class="t a" style="left:1520px;top:674px;width:22px;height:8px"></div>
<div class="t a" style="left:1543px;top:674px;width:16px;height:8px"></div>
<div class="t e" style="left:1560px;top:674px;width:4px;height:8px"></div>
</body></html>
